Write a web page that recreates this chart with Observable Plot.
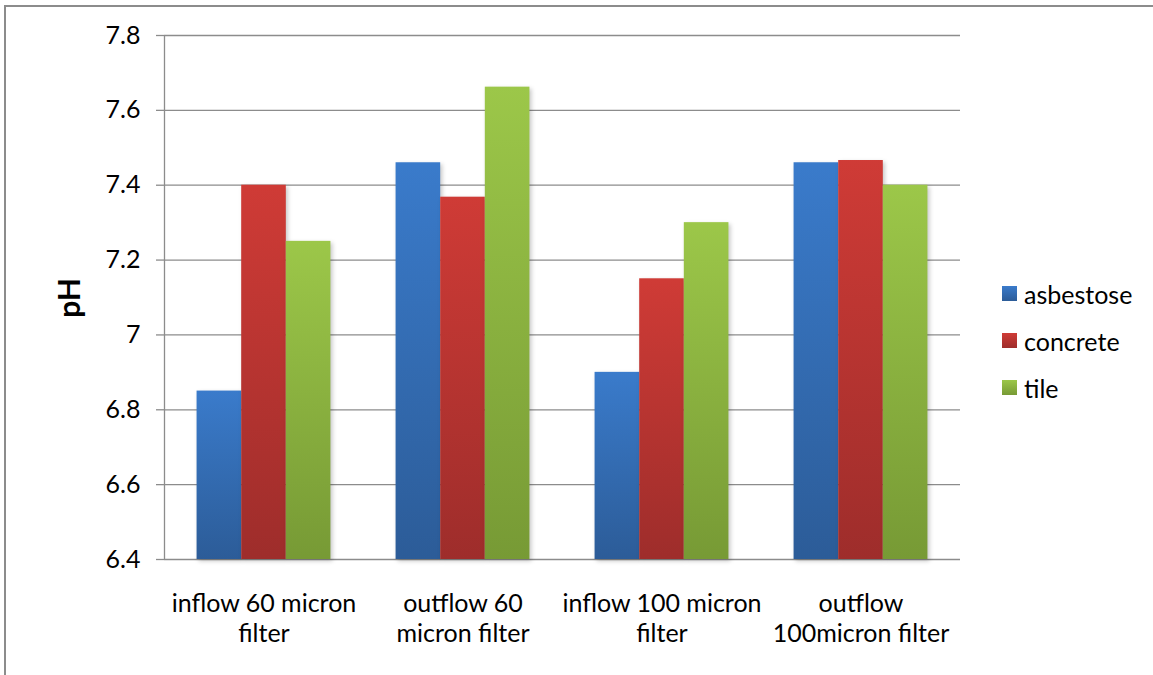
<!DOCTYPE html>
<html><head><meta charset="utf-8">
<script src="https://cdn.jsdelivr.net/npm/d3@7"></script>
<script src="https://cdn.jsdelivr.net/npm/@observablehq/plot@0.6"></script>
<style>
body{margin:0;background:#fff;font-family:Lato,"Open Sans",sans-serif}
#wrap{position:relative;width:1153px;height:675px;overflow:hidden}
#border{position:absolute;left:4px;top:5px;width:1170px;height:690px;border:2px solid #8c8c8c;box-sizing:border-box}
#chart{position:absolute;left:0;top:0}
#ylabel{position:absolute;left:68px;top:298px;transform:translate(-50%,-50%) rotate(-90deg);font-weight:bold;font-size:30px;color:#000;white-space:nowrap}
#legend{position:absolute;left:1002px;top:270px}
.item{display:flex;align-items:center;height:47px;font-size:25px;color:#000}
.sw{width:15px;height:15px;margin-right:7px}
svg g[aria-label="rect"]{filter:drop-shadow(2px 2px 2px rgba(0,0,0,0.22))}
</style></head>
<body>
<div id="wrap"><div id="border"></div><div id="chart"></div><div id="ylabel">pH</div><div id="legend"></div></div>
<script>
const categories = ["inflow 60 micron\nfilter", "outflow 60\nmicron filter", "inflow 100 micron\nfilter", "outflow\n100micron filter"];
const series = ["asbestose", "concrete", "tile"];
const asbestose = [6.85, 7.46, 6.90, 7.46];
const concrete = [7.40, 7.368, 7.15, 7.466];
const tile = [7.25, 7.662, 7.30, 7.40];
const yTicks = [6.4, 6.6, 6.8, 7.0, 7.2, 7.4, 7.6, 7.8];
const yTickLabels = ["6.4", "6.6", "6.8", "7", "7.2", "7.4", "7.6", "7.8"];
const colorTop = ["#3a7bcb", "#cf3b36", "#9cc749"];
const colorBottom = ["#2c5c98", "#9e2d2b", "#779a35"];

const values = {asbestose, concrete, tile};
const rows = [];
series.forEach((s, si) => categories.forEach((c, ci) => rows.push({category: c, series: s, index: si, value: values[s][ci]})));

const xDomain = [-0.73, series.length + 0.73];
const grid = {stroke: "#8c8c8c", strokeOpacity: 1, strokeWidth: 1.3};

const plot = Plot.plot({
  width: 1153, height: 675,
  marginLeft: 163, marginRight: 193, marginTop: 35, marginBottom: 116,
  style: {fontFamily: "Lato, sans-serif", background: "transparent", color: "#000"},
  fx: {domain: categories, padding: 0, label: null},
  x: {domain: xDomain, axis: null},
  y: {domain: [yTicks[0], yTicks[yTicks.length - 1]], axis: null},
  marks: [
    Plot.gridY(yTicks, grid),
    ...series.map((s, si) => Plot.rect(rows.filter(d => d.series === s), {
      fx: "category", x1: "index", x2: d => d.index + 1, y1: yTicks[0], y2: "value",
      fill: `url(#grad-${s})`
    })),
    Plot.ruleX([xDomain[0]], {facetAnchor: "left", ...grid}),
    Plot.axisY(yTicks, {tickSize: 8, tickPadding: 16, stroke: "#8c8c8c", strokeWidth: 1.3, fill: "#000", fontSize: 25,
      tickFormat: (d, i) => yTickLabels[i], label: null}),
    Plot.axisFx({anchor: "bottom", tickSize: 0, tickPadding: 31, fontSize: 25, lineHeight: 1.2, fill: "#000", label: null})
  ]
});
const defs = series.map((s, i) =>
  `<linearGradient id="grad-${s}" x1="0" y1="0" x2="0" y2="1"><stop offset="0" stop-color="${colorTop[i]}"/><stop offset="1" stop-color="${colorBottom[i]}"/></linearGradient>`).join("");
plot.insertAdjacentHTML("afterbegin", `<defs>${defs}</defs>`);
document.getElementById("chart").appendChild(plot);

const legend = document.getElementById("legend");
series.forEach((s, i) => {
  const item = document.createElement("div");
  item.className = "item";
  item.innerHTML = `<div class="sw" style="background:linear-gradient(${colorTop[i]},${colorBottom[i]})"></div><span>${s}</span>`;
  legend.appendChild(item);
});
</script>
</body></html>
